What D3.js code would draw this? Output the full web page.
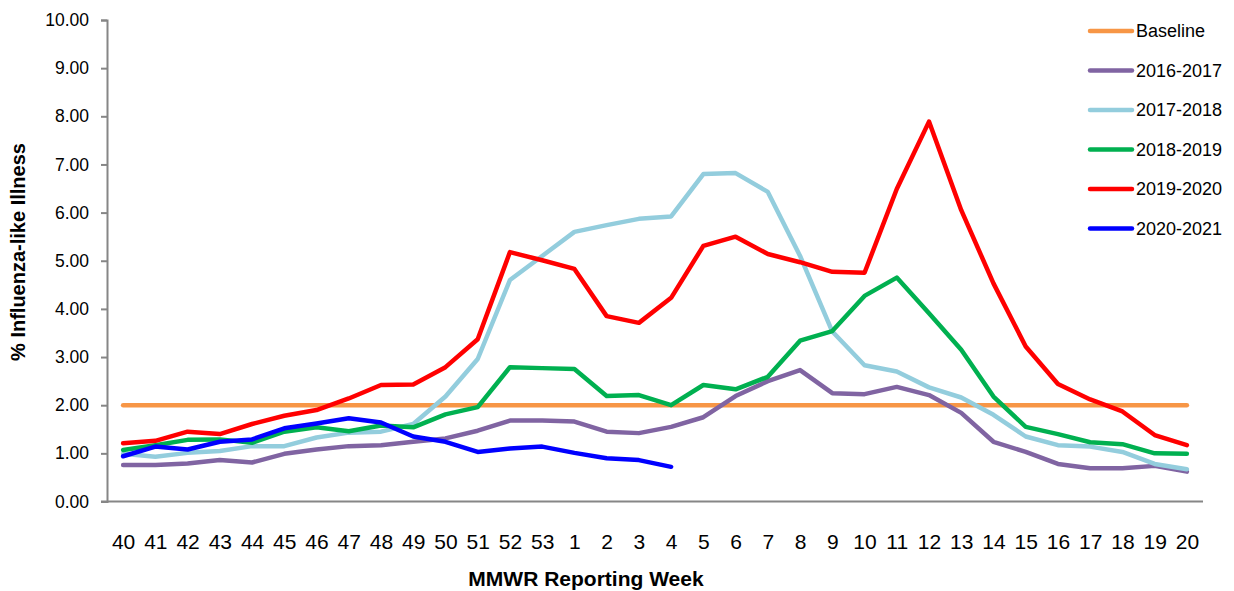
<!DOCTYPE html>
<meta charset="utf-8">
<style>
  body { margin: 0; background: #fff; }
  .chart text { font-family: "Liberation Sans", Arial, sans-serif; fill: #000; }
</style>
<body>
<svg class="chart"></svg>
<script src="https://cdn.jsdelivr.net/npm/d3@7"></script>
<script>

// data
var weeks = ["40","41","42","43","44","45","46","47","48","49","50","51","52","53",
             "1","2","3","4","5","6","7","8","9","10","11","12","13","14","15","16","17","18","19","20"];

var baseline = [2.0,2.0,2.0,2.0,2.0,2.0,2.0,2.0,2.0,2.0,2.0,2.0,2.0,2.0,2.0,2.0,2.0,
                2.0,2.0,2.0,2.0,2.0,2.0,2.0,2.0,2.0,2.0,2.0,2.0,2.0,2.0,2.0,2.0,2.0];

var s2016 = [0.76,0.76,0.79,0.86,0.81,0.99,1.08,1.15,1.17,1.24,1.31,1.47,1.68,1.68,
             1.66,1.45,1.42,1.55,1.75,2.19,2.50,2.73,2.25,2.23,2.38,2.21,1.84,1.24,1.03,0.78,0.69,0.69,0.74,0.62];

var s2017 = [0.99,0.93,1.01,1.05,1.15,1.15,1.33,1.43,1.45,1.61,2.18,2.96,4.60,5.10,
             5.60,5.74,5.87,5.92,6.80,6.82,6.43,5.10,3.53,2.83,2.70,2.37,2.16,1.80,1.35,1.17,1.14,1.03,0.78,0.67];

var s2018 = [1.07,1.17,1.28,1.29,1.22,1.45,1.54,1.46,1.58,1.54,1.81,1.96,2.79,2.77,
             2.75,2.19,2.21,2.00,2.42,2.33,2.59,3.34,3.54,4.27,4.65,3.91,3.15,2.18,1.55,1.40,1.23,1.19,1.00,0.99];

var s2019 = [1.21,1.26,1.45,1.40,1.61,1.78,1.90,2.14,2.42,2.43,2.79,3.37,5.18,5.01,
             4.83,3.85,3.71,4.23,5.31,5.50,5.14,4.97,4.77,4.75,6.49,7.89,6.05,4.53,3.22,2.44,2.12,1.87,1.38,1.17];

var s2020 = [0.94,1.14,1.08,1.24,1.29,1.52,1.62,1.73,1.64,1.35,1.24,1.03,1.10,1.14,
             1.01,0.90,0.86,0.72];

var seriesNames = ["Baseline","2016-2017","2017-2018","2018-2019","2019-2020","2020-2021"];
var seriesColors = ["#F79646","#8064A2","#93CDDD","#00B050","#FF0000","#0000FF"];
var seriesValues = [baseline, s2016, s2017, s2018, s2019, s2020];

var yTicks = [0,1,2,3,4,5,6,7,8,9,10];

// chart area
var w = 1234, h = 591;
var chart = d3.select(".chart").attr("width", w).attr("height", h);

var x = d3.scalePoint().domain(weeks).range([107, 1203]).padding(0.5);
var y = d3.scaleLinear().domain([0, 10]).range([501.5, 20]);

// y axis
var yAxis = d3.axisLeft(y).tickValues(yTicks).tickSize(6).tickPadding(12)
    .tickFormat(d3.format(".2f"));
var gy = chart.append("g").attr("transform", "translate(107,0)").call(yAxis);
gy.select(".domain").attr("stroke", "#868686").attr("stroke-width", 2);
gy.selectAll(".tick line").attr("stroke", "#868686").attr("stroke-width", 2);
gy.selectAll(".tick text").style("font-size", "17.5px").style("font-family", "Liberation Sans, Arial, sans-serif").attr("fill", "#000");

// x axis
var xAxis = d3.axisBottom(x).tickSize(0).tickPadding(33);
var gx = chart.append("g").attr("transform", "translate(0,501.5)").call(xAxis);
gx.select(".domain").attr("stroke", "#868686").attr("stroke-width", 2).attr("d", "M101,0H1203");
gx.selectAll(".tick text").style("font-size", "21px").style("font-family", "Liberation Sans, Arial, sans-serif").attr("fill", "#000");

// axis titles
chart.append("text")
    .attr("transform", "translate(25,252) rotate(-90)")
    .attr("text-anchor", "middle")
    .style("font-size", "20px").style("font-weight", "bold")
    .text("% Influenza-like Illness");

chart.append("text")
    .attr("x", 586).attr("y", 586)
    .attr("text-anchor", "middle")
    .style("font-size", "21px").style("font-weight", "bold")
    .text("MMWR Reporting Week");

// lines
var line = d3.line()
    .x(function (d, i) { return x(weeks[i]); })
    .y(function (d) { return y(d); });

seriesValues.forEach(function (vals, k) {
    chart.append("path")
        .datum(vals)
        .attr("fill", "none")
        .attr("stroke", seriesColors[k])
        .attr("stroke-width", 4.5)
        .attr("stroke-linejoin", "round")
        .attr("stroke-linecap", "round")
        .attr("d", line);
});

// legend
var legend = chart.selectAll(".leg")
    .data(seriesNames)
    .enter().append("g")
    .attr("transform", function (d, i) { return "translate(1090," + (31 + i * 39.5) + ")"; });

legend.append("line")
    .attr("x1", 0).attr("x2", 42).attr("y1", 0).attr("y2", 0)
    .attr("stroke", function (d, i) { return seriesColors[i]; })
    .attr("stroke-width", 4.5)
    .attr("stroke-linecap", "round");

legend.append("text")
    .attr("x", 46).attr("y", 0).attr("dy", "0.35em")
    .style("font-size", "18px")
    .text(function (d) { return d; });

</script>
</body>
